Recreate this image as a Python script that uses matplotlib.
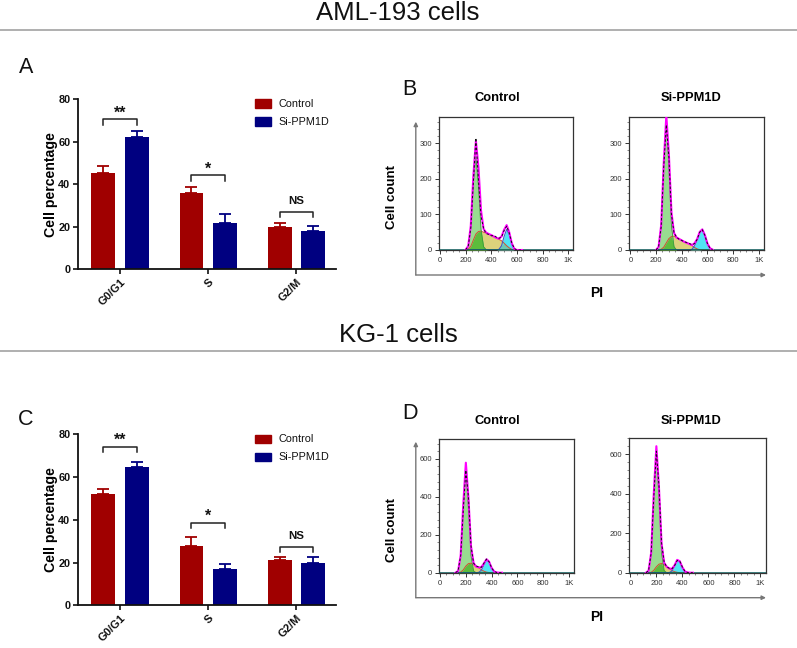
import numpy as np
import matplotlib
matplotlib.use("Agg")
import matplotlib.pyplot as plt
import matplotlib.transforms as mtransforms
from matplotlib.ticker import MultipleLocator, FixedLocator
from matplotlib.patches import Rectangle

plt.rcParams['font.family'] = ['Liberation Sans', 'DejaVu Sans']

# ---------------- data ----------------
categories = ['G0/G1', 'S', 'G2/M']
sig_labels = ['**', '*', 'NS']
series_names = ['Control', 'Si-PPM1D']

aml_ctrl = [45.5, 35.8, 19.8]
aml_ctrl_err = [3.1, 3.1, 1.8]
aml_si = [62.1, 21.9, 17.9]
aml_si_err = [3.0, 4.1, 2.5]

kg_ctrl = [51.9, 27.9, 21.2]
kg_ctrl_err = [2.4, 4.2, 1.5]
kg_si = [64.6, 17.1, 19.9]
kg_si_err = [2.3, 2.1, 2.8]

# flow cytometry histograms (PI channel value -> cell count)
aml_pi = [200, 220, 240, 260, 280, 300, 320, 340, 360, 380, 400, 420,
          440, 460, 480, 500, 520, 540, 560, 580, 600, 620, 640]
aml_ctrl_g1 = [1, 9, 58, 180, 262, 180, 58, 9, 1, 0, 0, 0, 0, 0, 0, 0, 0, 0, 0, 0, 0, 0, 0]
aml_ctrl_s = [0, 2, 10, 28, 45, 52, 53, 50, 48, 45, 42, 38, 34, 30, 26, 19, 12, 6, 2, 0, 0, 0, 0]
aml_ctrl_g2 = [0, 0, 0, 0, 0, 0, 0, 0, 0, 0, 0, 0, 0, 2, 12, 38, 58, 44, 17, 3, 0, 0, 0]
aml_ctrl_raw = [1, 10, 62, 190, 315, 195, 95, 60, 46, 44, 40, 41, 36, 33, 36, 55, 67, 48, 20, 4, 0, 0, 0]

aml_si_g1 = [0, 9, 68, 237, 358, 237, 68, 9, 0, 0, 0, 0, 0, 0, 0, 0, 0, 0, 0, 0, 0, 0, 0]
aml_si_s = [0, 0, 2, 8, 20, 32, 38, 39, 35, 31, 27, 23, 20, 17, 12, 7, 3, 1, 0, 0, 0, 0, 0]
aml_si_g2 = [0, 0, 0, 0, 0, 0, 0, 0, 0, 0, 0, 0, 0, 0, 2, 12, 28, 50, 58, 42, 18, 5, 1]
aml_si_raw = [0, 9, 65, 235, 352, 262, 100, 48, 36, 30, 27, 23, 21, 18, 15, 18, 30, 50, 57, 41, 18, 5, 1]

kg_pi = [120, 140, 160, 180, 200, 220, 240, 260, 280, 300, 320, 340,
         360, 380, 400, 420, 440, 460, 480]
kg_ctrl_g1 = [0, 9, 89, 346, 545, 346, 89, 9, 0, 0, 0, 0, 0, 0, 0, 0, 0, 0, 0]
kg_ctrl_s = [0, 0, 3, 15, 35, 48, 50, 42, 32, 26, 16, 8, 3, 1, 0, 0, 0, 0, 0]
kg_ctrl_g2 = [0, 0, 0, 0, 0, 0, 0, 0, 0, 2, 13, 41, 68, 57, 25, 6, 1, 0, 0]
kg_ctrl_raw = [0, 10, 90, 330, 540, 400, 140, 50, 36, 30, 28, 50, 72, 58, 25, 6, 1, 0, 0]

kg_si_g1 = [0, 10, 99, 387, 610, 387, 99, 10, 0, 0, 0, 0, 0, 0, 0, 0, 0, 0, 0]
kg_si_s = [0, 0, 2, 12, 30, 43, 47, 40, 30, 20, 11, 5, 2, 0, 0, 0, 0, 0, 0]
kg_si_g2 = [0, 0, 0, 0, 0, 0, 0, 0, 0, 1, 9, 33, 63, 58, 27, 6, 1, 0, 0]
kg_si_raw = [0, 10, 100, 380, 615, 440, 150, 52, 30, 22, 20, 36, 62, 58, 28, 6, 1, 0, 0]

pi_ticks = [0, 200, 400, 600, 800, 1000]
pi_ticklabels = ['0', '200', '400', '600', '800', '1K']

# ---------------- style / layout ----------------
RED = '#a00000'
BLUE = '#000080'
W, H = 797, 648
fig = plt.figure(figsize=(W / 100, H / 100), dpi=100)


def px_axes(l, t, r, b, **kw):
    return fig.add_axes([l / W, 1 - b / H, (r - l) / W, (b - t) / H], **kw)


def bar_panel(ax, ctrl, ctrl_err, si, si_err, bracket_y):
    x = np.arange(len(categories))
    off, w = 0.19, 0.27
    z = np.zeros(len(categories))
    ax.errorbar(x - off, ctrl, yerr=[z, ctrl_err], fmt='none', ecolor=RED,
                elinewidth=1.3, capsize=4, capthick=1.3, zorder=1)
    ax.errorbar(x + off, si, yerr=[z, si_err], fmt='none', ecolor=BLUE,
                elinewidth=1.3, capsize=4, capthick=1.3, zorder=1)
    ax.bar(x - off, ctrl, w, color=RED, zorder=2)
    ax.bar(x + off, si, w, color=BLUE, zorder=2)
    for i, lab in enumerate(sig_labels):
        top = bracket_y[i]
        ax.plot([i - off, i - off, i + off, i + off], [top - 2.5, top, top, top - 2.5],
                color='#222222', lw=1.1, clip_on=False)
        if lab == 'NS':
            ax.text(i, top + 3.4, lab, ha='center', va='baseline', fontsize=8.2,
                    fontweight='bold', color='#111111')
        else:
            ax.text(i, top + 0.8, lab, ha='center', va='baseline', fontsize=11.5,
                    fontweight='bold', color='#111111')
    ax.set_xlim(-0.476, 2.449)
    ax.set_ylim(0, 80)
    ax.set_yticks([0, 20, 40, 60, 80])
    ax.set_xticks(x)
    ax.set_xticklabels(categories, rotation=45, ha='right', va='top',
                       rotation_mode='anchor', fontweight='bold', fontsize=8)
    shift = mtransforms.ScaledTranslation(-0.04, -0.005, fig.dpi_scale_trans)
    for lbl in ax.get_xticklabels():
        lbl.set_transform(lbl.get_transform() + shift)
    for lbl in ax.get_yticklabels():
        lbl.set_fontweight('bold')
        lbl.set_fontsize(7.8)
    ax.spines['top'].set_visible(False)
    ax.spines['right'].set_visible(False)
    for s in ('left', 'bottom'):
        ax.spines[s].set_linewidth(1.3)
        ax.spines[s].set_color('#111111')
    ax.tick_params(direction='out', length=3.5, width=1.2, pad=2, colors='#111111')
    ax.set_ylabel('Cell percentage', fontsize=10.2, fontweight='bold')
    ax.yaxis.set_label_coords(-0.078, 0.5)
    ax.patch.set_alpha(0)


def hist_panel(ax, x, g1, s, g2, raw, ymax, ymajor, yminor):
    x = np.asarray(x, float)
    g1 = np.asarray(g1, float)
    s = np.asarray(s, float)
    g2 = np.asarray(g2, float)
    env = g1 + s + g2
    ax.fill_between(x, s, color='#dcd27c', lw=0, zorder=1)
    ax.fill_between(x, g1, color='#98dc90', lw=0, zorder=2)
    ax.fill_between(x, np.minimum(g1, s), color='#5cbc3c', lw=0, zorder=3)
    ax.fill_between(x, g2, color='#50e4f4', lw=0, zorder=2)
    ax.fill_between(x, np.minimum(g2, s), color='#6cc8b0', lw=0, zorder=3)
    ax.plot(x, s, color='#d05030', lw=0.7, zorder=4)
    ax.plot(x, g1, color='#3a9a3a', lw=0.6, zorder=4)
    ax.plot(x, g2, color='#4058c8', lw=0.8, zorder=4)
    ax.axhline(0, color='#0b5a5a', lw=1.8, zorder=5)
    ax.plot(x, env, color='#ff00ff', lw=1.5, zorder=6)
    ax.plot(x, raw, color='#111111', lw=0.7, ls=(0, (2.5, 2)), zorder=7)
    ax.set_xlim(-8, 1040)
    ax.set_ylim(0, ymax)
    ax.xaxis.set_major_locator(FixedLocator(pi_ticks))
    ax.set_xticklabels(pi_ticklabels)
    ax.xaxis.set_minor_locator(MultipleLocator(50))
    ax.yaxis.set_major_locator(MultipleLocator(ymajor))
    ax.yaxis.set_minor_locator(MultipleLocator(yminor))
    ax.tick_params(which='major', direction='out', length=3, width=0.7,
                   labelsize=5.5, colors='#333333', pad=2)
    ax.tick_params(which='minor', direction='out', length=1.5, width=0.5, colors='#555555')
    for sp in ax.spines.values():
        sp.set_linewidth(0.9)
        sp.set_color('#333333')


# bar panels
axA = px_axes(78, 99.3, 336, 269.3)
bar_panel(axA, aml_ctrl, aml_ctrl_err, aml_si, aml_si_err, [70.6, 44.2, 27.1])
axC = px_axes(78, 434.3, 336, 605.3)
bar_panel(axC, kg_ctrl, kg_ctrl_err, kg_si, kg_si_err, [74.2, 38.6, 27.4])

# histogram panels
ax1 = px_axes(439, 116.7, 573.3, 250)
hist_panel(ax1, aml_pi, aml_ctrl_g1, aml_ctrl_s, aml_ctrl_g2, aml_ctrl_raw, 375, 100, 20)
ax2 = px_axes(629.3, 116.7, 764, 250)
hist_panel(ax2, aml_pi, aml_si_g1, aml_si_s, aml_si_g2, aml_si_raw, 375, 100, 20)
ax3 = px_axes(439, 439, 574.3, 572.7)
hist_panel(ax3, kg_pi, kg_ctrl_g1, kg_ctrl_s, kg_ctrl_g2, kg_ctrl_raw, 705, 200, 40)
ax4 = px_axes(629.3, 438.3, 765.7, 572.7)
hist_panel(ax4, kg_pi, kg_si_g1, kg_si_s, kg_si_g2, kg_si_raw, 680, 200, 40)

# overlay for titles, separators, legends, outer axes
ov = fig.add_axes([0, 0, 1, 1], zorder=-1)
ov.set_xlim(0, W)
ov.set_ylim(H, 0)
ov.axis('off')

ov.text(398, 20, 'AML-193 cells', ha='center', va='baseline', fontsize=18.5, color='#111111')
ov.plot([0, W], [29.5, 29.5], color='#9a9a9a', lw=1.1)
ov.text(398, 341.5, 'KG-1 cells', ha='center', va='baseline', fontsize=18.5, color='#111111')
ov.plot([0, W], [351, 351], color='#9a9a9a', lw=1.1)

for lab, xx, yy in [('A', 19, 73), ('B', 402, 95), ('C', 18, 425), ('D', 402, 419)]:
    ov.text(xx, yy, lab, ha='left', va='baseline', fontsize=15.5, color='#111111')

# legends
for ytop in (99.3, 434.8):
    for k, (name, col) in enumerate(zip(series_names, [RED, BLUE])):
        y0 = ytop + k * 18
        ov.add_patch(Rectangle((255, y0), 16, 8.4, color=col))
        ov.text(278.3, y0 + 4.4, name, ha='left', va='center', fontsize=7.8, color='#111111')

# histogram column titles, outer axes, labels
for ytitle, yax_top, yax_bot, ycc, ypi in [(98, 121.7, 275, 196.7, 293.3),
                                            (420.7, 441.7, 597.7, 530, 616.7)]:
    ov.text(497, ytitle, 'Control', ha='center', va='center', fontsize=9.3, fontweight='bold')
    ov.text(690.7, ytitle, 'Si-PPM1D', ha='center', va='center', fontsize=9.3, fontweight='bold')
    ov.annotate('', xy=(415.8, yax_top), xytext=(415.8, yax_bot),
                arrowprops=dict(arrowstyle='-|>', color='#777777', lw=1.0,
                                mutation_scale=6, shrinkA=0, shrinkB=0))
    ov.annotate('', xy=(766, yax_bot), xytext=(415.8, yax_bot),
                arrowprops=dict(arrowstyle='-|>', color='#777777', lw=1.0,
                                mutation_scale=6, shrinkA=0, shrinkB=0))
    ov.text(391.7, ycc, 'Cell count', ha='center', va='center', rotation=90,
            fontsize=9.5, fontweight='bold')
    ov.text(597, ypi, 'PI', ha='center', va='center', fontsize=10, fontweight='bold')

fig.savefig('out.png', dpi=100)
